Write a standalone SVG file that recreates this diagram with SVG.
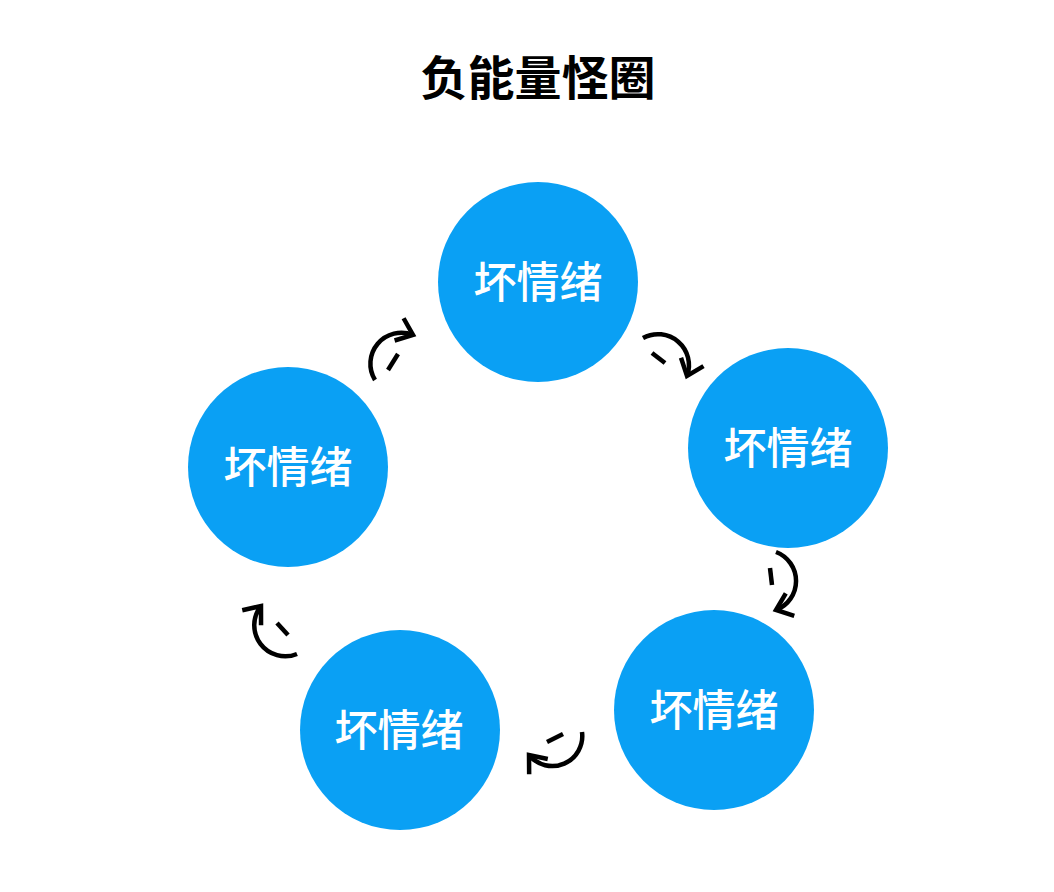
<svg xmlns="http://www.w3.org/2000/svg" width="1054" height="892" viewBox="0 0 1054 892">
<style>
.bg{fill:#ffffff}
.node circle{fill:#0aa0f4}
.node text{fill:#ffffff;font-family:"Noto Sans CJK SC","Noto Sans",sans-serif;font-size:43px;font-weight:500;text-anchor:middle}
.title{fill:#000000;font-family:"Noto Sans CJK SC","Noto Sans",sans-serif;font-size:47px;font-weight:700;text-anchor:middle}
.arc{fill:none;stroke:#000000;stroke-width:4.5;marker-end:url(#head)}
.dash{stroke:#000000;stroke-width:4.5}
</style>
<defs>
<marker id="head" markerUnits="userSpaceOnUse" markerWidth="40" markerHeight="40" refX="0" refY="0" orient="auto" overflow="visible">
<path d="M -15 -12 L 0 0 L -15 12" fill="none" stroke="#000000" stroke-width="4.5"/>
</marker>
</defs>
<rect class="bg" x="0" y="0" width="1054" height="892"/>
<text class="title" x="538" y="95">负能量怪圈</text>
<g id="node-top" class="node"><circle cx="538" cy="282" r="100"/><text x="538" y="298">坏情绪</text></g>
<g id="node-right" class="node"><circle cx="788" cy="448" r="100"/><text x="788" y="464">坏情绪</text></g>
<g id="node-bottom-right" class="node"><circle cx="714" cy="710" r="100"/><text x="714" y="726">坏情绪</text></g>
<g id="node-bottom-left" class="node"><circle cx="400" cy="730" r="100"/><text x="399" y="746">坏情绪</text></g>
<g id="node-left" class="node"><circle cx="288" cy="467" r="100"/><text x="288" y="483">坏情绪</text></g>
<g id="connectors">
<path class="arc" d="M 643 338 A 31 31 0 0 1 687 376"/>
<line class="dash" x1="652" y1="353" x2="665" y2="363"/>
<path class="arc" d="M 776 552 A 31 31 0 0 1 776 610"/>
<line class="dash" x1="770" y1="568" x2="772" y2="585"/>
<path class="arc" d="M 582 732 A 30 30 0 0 1 529 755"/>
<line class="dash" x1="547" y1="742" x2="563" y2="734"/>
<path class="arc" d="M 297 654 A 31 31 0 0 1 261 606"/>
<line class="dash" x1="277" y1="623" x2="288" y2="635"/>
<path class="arc" d="M 375 380 A 31 31 0 0 1 413 335"/>
<line class="dash" x1="388" y1="370" x2="398" y2="354"/>
</g>
</svg>
